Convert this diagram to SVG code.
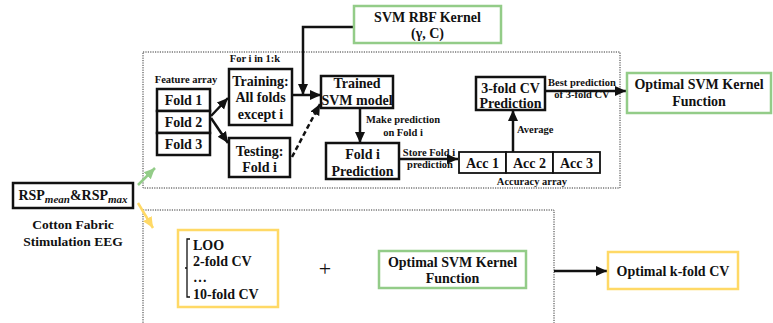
<svg xmlns="http://www.w3.org/2000/svg" width="773" height="323" viewBox="0 0 773 323" font-family="'Liberation Serif', 'Times New Roman', Times, 'DejaVu Serif', serif">
<style>
text{font-family:'Liberation Serif','Times New Roman',Times,'DejaVu Serif',serif;font-weight:bold;fill:#111;text-anchor:middle}
.m{font-size:14px}
.s{font-size:10.5px}
.bx{fill:#fff;stroke:#111;stroke-width:2.5}
.gb{fill:#fff;stroke:#93cc88;stroke-width:2.5}
.yb{fill:#fff;stroke:#ffd966;stroke-width:2.5}
.dot{fill:none;stroke:#333;stroke-width:1;stroke-dasharray:1.2 1.2}
.c{fill:none;stroke:#111;stroke-width:2.5}
</style>
<defs>
<marker id="ah" markerUnits="userSpaceOnUse" markerWidth="12" markerHeight="12" refX="11" refY="6" orient="auto"><path d="M0,1 L11,6 L0,11 Z" fill="#111"/></marker>
<marker id="ag" markerUnits="userSpaceOnUse" markerWidth="12" markerHeight="12" refX="11" refY="6" orient="auto"><path d="M0,1 L11,6 L0,11 Z" fill="#93cc88"/></marker>
<marker id="ay" markerUnits="userSpaceOnUse" markerWidth="12" markerHeight="12" refX="11" refY="6" orient="auto"><path d="M0,1 L11,6 L0,11 Z" fill="#ffd966"/></marker>
</defs>
<rect width="773" height="323" fill="#fff"/>
<g id="frames">
<rect class="dot" x="143" y="52" width="477" height="136"/>
<path class="dot" d="M143,330 V210 H554 V330"/>
</g>
<g id="labels">
<text class="s" x="255" y="62">For i in 1:k</text>
<text class="s" x="186" y="83">Feature array</text>
<text class="s" x="403" y="123">Make prediction</text>
<text class="s" x="403" y="136">on Fold i</text>
<text class="s" x="429" y="156">Store Fold i</text>
<text class="s" x="430" y="168">prediction</text>
<text class="s" x="532" y="185">Accuracy array</text>
<text class="s" x="517" y="133" style="text-anchor:start">Average</text>
<text class="s" x="582" y="86">Best prediction</text>
<text class="s" x="582" y="98">of 3-fold CV</text>
<text class="m" x="73" y="229" style="font-size:13.5px">Cotton Fabric</text>
<text class="m" x="73" y="246" style="font-size:13.5px">Stimulation EEG</text>
<text x="325" y="276" style="font-size:22px;font-weight:normal">+</text>
</g>
<g id="connectors">
<path class="c" d="M354,27 H303 V95" marker-end="url(#ah)"/>
<path class="c" d="M211,116 L228,98" marker-end="url(#ah)"/>
<path class="c" d="M211,118 L228,143" marker-end="url(#ah)"/>
<path class="c" d="M292,95 H321" marker-end="url(#ah)"/>
<path class="c" d="M292,157 L320,104" stroke-dasharray="5 3" marker-end="url(#ah)"/>
<path class="c" d="M360,108 V143" marker-end="url(#ah)"/>
<path class="c" d="M399,159 H458" marker-end="url(#ah)"/>
<path class="c" d="M513,152 V110" marker-end="url(#ah)"/>
<path class="c" d="M545,91 H626" marker-end="url(#ah)"/>
<path class="c" d="M554,271 H607" marker-end="url(#ah)"/>
<path fill="none" stroke="#93cc88" stroke-width="2.5" d="M138,185 L155,168" marker-end="url(#ag)"/>
<path fill="none" stroke="#ffd966" stroke-width="2.5" d="M138,203 L153,228" marker-end="url(#ay)"/>
</g>
<g id="svm-rbf">
<rect class="gb" x="354" y="6" width="147" height="37"/>
<text class="m" x="427.5" y="22">SVM RBF Kernel</text>
<text class="m" x="427.5" y="38">(γ, C)</text>
</g>
<g id="folds">
<rect class="bx" x="157" y="89" width="53" height="22"/>
<rect class="bx" x="157" y="111" width="53" height="22"/>
<rect class="bx" x="157" y="133" width="53" height="22"/>
<text class="m" x="183.5" y="105">Fold 1</text>
<text class="m" x="183.5" y="127">Fold 2</text>
<text class="m" x="183.5" y="149">Fold 3</text>
</g>
<g id="training">
<rect class="bx" x="229" y="69" width="63" height="56"/>
<text class="m" x="260.5" y="86">Training:</text>
<text class="m" x="260.5" y="102">All folds</text>
<text class="m" x="260.5" y="119">except i</text>
</g>
<g id="testing">
<rect class="bx" x="229" y="138" width="61" height="39"/>
<text class="m" x="259.5" y="156">Testing:</text>
<text class="m" x="259.5" y="172">Fold i</text>
</g>
<g id="trained">
<rect class="bx" x="321" y="76" width="72" height="32"/>
<text class="m" x="357" y="88">Trained</text>
<text class="m" x="357" y="105">SVM model</text>
</g>
<g id="fold-pred">
<rect class="bx" x="326" y="143" width="73" height="36"/>
<text class="m" x="362.5" y="159">Fold i</text>
<text class="m" x="362.5" y="176">Prediction</text>
</g>
<g id="acc">
<rect class="bx" x="459" y="152" width="47" height="21" style="stroke-width:1.8"/>
<rect class="bx" x="506" y="152" width="47" height="21" style="stroke-width:1.8"/>
<rect class="bx" x="553" y="152" width="47" height="21" style="stroke-width:1.8"/>
<text class="m" x="482.5" y="168">Acc 1</text>
<text class="m" x="529.5" y="168">Acc 2</text>
<text class="m" x="576.5" y="168">Acc 3</text>
</g>
<g id="cv-pred">
<rect class="bx" x="476" y="77" width="69" height="33"/>
<text class="m" x="510.5" y="93">3-fold CV</text>
<text class="m" x="510.5" y="108">Prediction</text>
</g>
<g id="optimal-svm-top">
<rect class="gb" x="627" y="73" width="144" height="40"/>
<text class="m" x="699" y="89">Optimal SVM Kernel</text>
<text class="m" x="699" y="106">Function</text>
</g>
<g id="rsp">
<rect class="bx" x="13" y="183" width="120" height="25"/>
<text class="m" x="73" y="200">RSP<tspan dy="3" font-style="italic" font-size="11">mean</tspan><tspan dy="-3">&amp;RSP</tspan><tspan dy="3" font-style="italic" font-size="11">max</tspan></text>
</g>
<g id="cv-options">
<rect class="yb" x="178" y="230" width="100" height="77"/>
<path d="M190,239 H187 V297 H190 M187,268 H185" fill="none" stroke="#111" stroke-width="1.3"/>
<text class="m" x="193" y="250" style="text-anchor:start">LOO</text>
<text class="m" x="193" y="266" style="text-anchor:start">2-fold CV</text>
<text class="m" x="193" y="282" style="text-anchor:start">…</text>
<text class="m" x="193" y="299" style="text-anchor:start">10-fold CV</text>
</g>
<g id="optimal-svm-bottom">
<rect class="gb" x="379" y="251" width="147" height="37"/>
<text class="m" x="452.5" y="267">Optimal SVM Kernel</text>
<text class="m" x="452.5" y="283">Function</text>
</g>
<g id="optimal-kfold">
<rect class="yb" x="608" y="252" width="130" height="37"/>
<text class="m" x="673" y="276">Optimal k-fold CV</text>
</g>
</svg>
